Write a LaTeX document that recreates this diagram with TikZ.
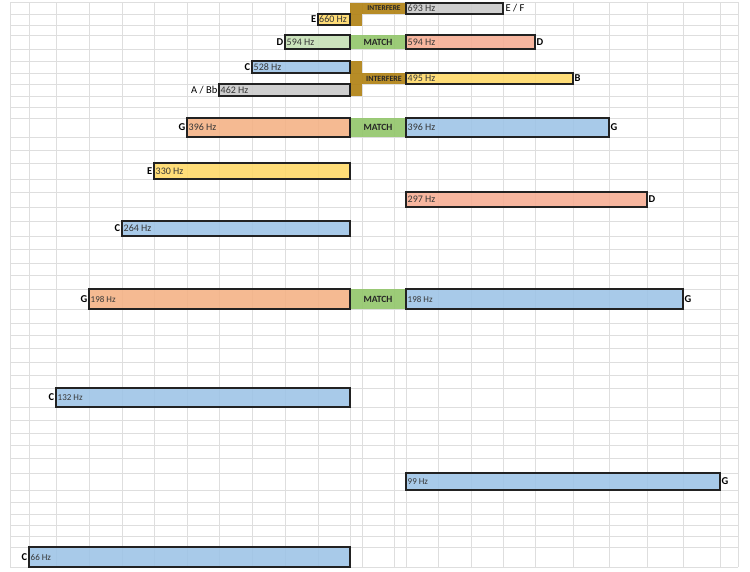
\documentclass[tikz,border=0pt]{standalone}
\usepackage{fontspec}
\setmainfont{Carlito}
\usetikzlibrary{positioning}
\definecolor{barblue}{RGB}{157,195,230}
\definecolor{barorange}{RGB}{244,177,131}
\definecolor{barsalmon}{RGB}{246,172,146}
\definecolor{baryellow}{RGB}{255,217,102}
\definecolor{bargray}{RGB}{201,201,201}
\definecolor{bargreen}{RGB}{197,224,180}
\definecolor{matchgreen}{RGB}{146,198,106}
\definecolor{interfere}{RGB}{176,128,16}
\definecolor{barline}{RGB}{34,34,34}
\definecolor{hztext}{RGB}{55,55,55}
\definecolor{gridline}{RGB}{222,222,222}

\begin{document}
\begin{tikzpicture}[x=1pt,y=-1pt,
  bar/.style={draw=barline,line width=1.3pt,fill opacity=0.88,inner sep=0pt,outer sep=0pt,anchor=north west},
  cell/.style={fill opacity=0.9,text opacity=1,inner sep=0pt,outer sep=0pt,anchor=north west,text=black!85},
  hz/.style={font=\fontsize{10}{11}\selectfont,text=hztext,inner sep=1.5pt,anchor=west},
  smallhz/.style={hz,font=\fontsize{9}{10}\selectfont},
  note/.style={font=\fontsize{10.5}{11}\selectfont\bfseries,inner sep=1.5pt},
  plainnote/.style={font=\fontsize{10.5}{11}\selectfont,inner sep=1.5pt}]
\useasboundingbox (0,0) rectangle (750,571);
\fill[white] (0,0) rectangle (750,571);

% sheet grid
\foreach \gx in {10,29,56,89,122,154,187,219,252,285,318,350,362,394,406,438,471,503,535,573,609,647,683,720,738}
  \draw[gridline,line width=0.8pt] (\gx,2) -- (\gx,567);
\foreach \gy in {2,14,25,35,49,61,73,84,96,107,118,137,150,163,179,192,207,221,236,249,263,275,289,309,323,335,348,362,375,388,407,420,433,445,458,473,490,502,514,525,536,547,567}
  \draw[gridline,line width=0.8pt] (10,\gy) -- (738,\gy);

% middle column
\node[cell,fill=interfere,minimum width=12pt,minimum height=23pt] (ifcolA) at (350,3) {};
\node[cell,fill=interfere,minimum width=44pt,minimum height=11pt,font=\fontsize{7.4}{8}\selectfont\bfseries] (ifA) at (362,3) {INTERFERE};
\node[cell,fill=matchgreen,minimum width=56pt,minimum height=14pt,font=\fontsize{9.5}{10}\selectfont\bfseries] (mA) at (350,35) {MATCH};
\node[cell,fill=interfere,minimum width=12pt,minimum height=35pt] (ifcolB) at (350,61) {};
\node[cell,fill=interfere,minimum width=44pt,minimum height=11pt,font=\fontsize{8}{9}\selectfont\bfseries] (ifB) at (362,73) {INTERFERE};
\node[cell,fill=matchgreen,minimum width=56pt,minimum height=19pt,font=\fontsize{9.5}{10}\selectfont\bfseries] (mB) at (350,118) {MATCH};
\node[cell,fill=matchgreen,minimum width=56pt,minimum height=20pt,font=\fontsize{9.5}{10}\selectfont\bfseries] (mC) at (350,289) {MATCH};

% left bars
\node[bar,fill=baryellow,minimum width=32pt,minimum height=11pt] (e660) at (318,14) {};
\node[bar,fill=bargreen,minimum width=65pt,minimum height=14pt] (d594) at (285,35) {};
\node[bar,fill=barblue,minimum width=98pt,minimum height=12pt] (c528) at (252,61) {};
\node[bar,fill=bargray,minimum width=131pt,minimum height=12pt] (ab462) at (219,84) {};
\node[bar,fill=barorange,minimum width=163pt,minimum height=19pt] (g396) at (187,118) {};
\node[bar,fill=baryellow,minimum width=196pt,minimum height=16pt] (e330) at (154,163) {};
\node[bar,fill=barblue,minimum width=228pt,minimum height=15pt] (c264) at (122,221) {};
\node[bar,fill=barorange,minimum width=261pt,minimum height=20pt] (g198) at (89,289) {};
\node[bar,fill=barblue,minimum width=294pt,minimum height=19pt] (c132) at (56,388) {};
\node[bar,fill=barblue,minimum width=321pt,minimum height=20pt] (c66) at (29,547) {};

% right bars
\node[bar,fill=bargray,minimum width=97pt,minimum height=11pt] (ef693) at (406,3) {};
\node[bar,fill=barsalmon,minimum width=129pt,minimum height=14pt] (d594r) at (406,35) {};
\node[bar,fill=baryellow,minimum width=167pt,minimum height=11pt] (b495) at (406,73) {};
\node[bar,fill=barblue,minimum width=203pt,minimum height=19pt] (g396r) at (406,118) {};
\node[bar,fill=barsalmon,minimum width=241pt,minimum height=15pt] (d297) at (406,192) {};
\node[bar,fill=barblue,minimum width=277pt,minimum height=20pt] (g198r) at (406,289) {};
\node[bar,fill=barblue,minimum width=314pt,minimum height=17pt] (g99) at (406,473) {};

% frequencies
\node[hz,inner sep=1pt] at (e660.west) {660 Hz};
\node[hz] at (d594.west) {594 Hz};
\node[hz] at (c528.west) {528 Hz};
\node[hz] at (ab462.west) {462 Hz};
\node[hz] at (g396.west) {396 Hz};
\node[hz] at (e330.west) {330 Hz};
\node[hz] at (c264.west) {264 Hz};
\node[smallhz] at (g198.west) {198 Hz};
\node[smallhz] at (c132.west) {132 Hz};
\node[smallhz] at (c66.west) {66 Hz};
\node[hz] at (ef693.west) {693 Hz};
\node[hz] at (d594r.west) {594 Hz};
\node[hz] at (b495.west) {495 Hz};
\node[hz] at (g396r.west) {396 Hz};
\node[hz] at (d297.west) {297 Hz};
\node[smallhz] at (g198r.west) {198 Hz};
\node[smallhz] at (g99.west) {99 Hz};

% note names
\node[note,left=0pt of e660] {E};
\node[note,left=0pt of d594] {D};
\node[note,left=0pt of c528] {C};
\node[plainnote,left=0pt of ab462] {A / Bb};
\node[note,left=0pt of g396] {G};
\node[note,left=0pt of e330] {E};
\node[note,left=0pt of c264] {C};
\node[note,left=0pt of g198] {G};
\node[note,left=0pt of c132] {C};
\node[note,left=0pt of c66] {C};
\node[plainnote,right=1pt of ef693] {E / F};
\node[note,right=0pt of d594r] {D};
\node[note,right=0pt of b495] {B};
\node[note,right=0pt of g396r] {G};
\node[note,right=0pt of d297] {D};
\node[note,right=0pt of g198r] {G};
\node[note,right=0pt of g99] {G};
\end{tikzpicture}
\end{document}
